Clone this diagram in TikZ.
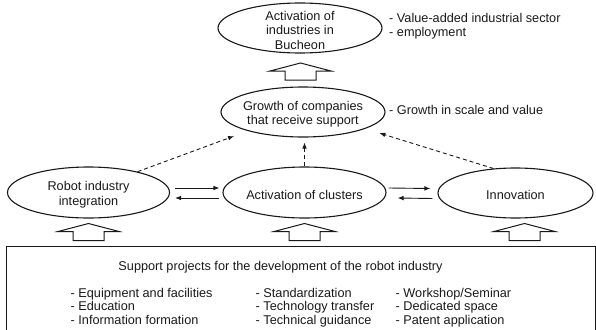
\documentclass[tikz,border=0pt]{standalone}
\usepackage{fontspec}
\setmainfont{Liberation Sans}
\usetikzlibrary{shapes.geometric,arrows.meta,calc}

\tikzset{
  txt/.style={inner sep=0pt, text=black!90, font=\fontsize{12.7}{14.5}\selectfont},
  oval/.style={ellipse, draw=black!90, line width=1.1pt, inner sep=0pt},
  ovaltext/.style={txt, align=center, yshift=-2pt},
  link/.style={draw=black!90, line width=0.9pt, -{Latex[length=6pt,width=4.6pt]}},
  dashlink/.style={link, dash pattern=on 4pt off 3pt},
  hollow/.pic={
    \draw[black!90, line width=1pt, fill=white]
      (0,8.5) -- (30.5,0.5) -- (15.5,0.5) -- (15.5,-8.5) -- (-15.5,-8.5)
      -- (-15.5,0.5) -- (-30.5,0.5) -- cycle;
  }
}

\begin{document}
\begin{tikzpicture}[x=1pt,y=1pt]
\useasboundingbox (0,0) rectangle (596,-329);

% outcome ovals
\node[oval, minimum width=164, minimum height=50,
  label={[ovaltext]center:Activation of\\industries in\\Bucheon}] (bucheon) at (300,-28) {};
\node[oval, minimum width=164, minimum height=50,
  label={[ovaltext]center:Growth of companies\\that receive support}] (growth) at (303,-112) {};

% driver ovals
\node[oval, minimum width=162, minimum height=51,
  label={[ovaltext]center:Robot industry\\integration}] (robot) at (88.5,-192.5) {};
\node[oval, minimum width=163, minimum height=51,
  label={[ovaltext]center:Activation of clusters}] (clusters) at (304.5,-192.5) {};
\node[oval, minimum width=155, minimum height=50,
  label={[ovaltext]center:Innovation}] (innov) at (515.5,-193) {};

% effects listed beside the outcomes
\node[txt, anchor=base west] (eff1) at (389,-23) {- Value-added industrial sector};
\node[txt, anchor=base west] (eff2) at (389,-36.5) {- employment};
\node[txt, anchor=base west] (eff3) at (389,-114) {- Growth in scale and value};

% support projects panel
\node[draw=black!90, line width=1pt, minimum width=589, minimum height=92,
  anchor=north west, inner sep=0pt] (panel) at (6,-246) {};
\node[txt, anchor=base] (ptitle) at (280.5,-270)
  {Support projects for the development of the robot industry};
\node[txt, anchor=base west] (a1) at (70.5,-297) {- Equipment and facilities};
\node[txt, anchor=base west] (a2) at (70.5,-310.5) {- Education};
\node[txt, anchor=base west] (a3) at (70.5,-324) {- Information formation};
\node[txt, anchor=base west] (b1) at (255.5,-297) {- Standardization};
\node[txt, anchor=base west] (b2) at (255.5,-310.5) {- Technology transfer};
\node[txt, anchor=base west] (b3) at (255.5,-324) {- Technical guidance};
\node[txt, anchor=base west] (c1) at (395.5,-297) {- Workshop/Seminar};
\node[txt, anchor=base west] (c2) at (395.5,-310.5) {- Dedicated space};
\node[txt, anchor=base west] (c3) at (395.5,-324) {- Patent application};

% block arrows
\pic at ($(growth.north)!0.5!(bucheon.south)+(-1,-1.5)$) {hollow};
\pic at ($(robot.south |- panel.north)+(0,14)$) {hollow};
\pic at ($(clusters.south |- panel.north)+(0,14)$) {hollow};
\pic at ($(innov.south |- panel.north)+(9,14)$) {hollow};

% two-way links between drivers
\draw[link] ($(robot.east)+(5,4.5)$) -- ($(clusters.west)+(-3,4.5)$);
\draw[link] ($(clusters.west)+(-3,-5.5)$) -- ($(robot.east)+(5,-5.5)$);
\draw[link] ($(clusters.east)+(2,4.5)$) -- ($(innov.west)+(-7,4.5)$);
\draw[link] ($(innov.west)+(-5,-5.5)$) -- ($(clusters.east)+(11,-5.5)$);

% dashed contributions to company growth
\draw[dashlink, shorten >=14.7pt] (robot.23) -- (growth.199);
\draw[dashlink, shorten >=5pt] (clusters.north) -- (clusters.north |- growth.south);
\draw[dashlink, shorten >=14.6pt] (innov.132) -- (growth.-15);
\end{tikzpicture}
\end{document}
